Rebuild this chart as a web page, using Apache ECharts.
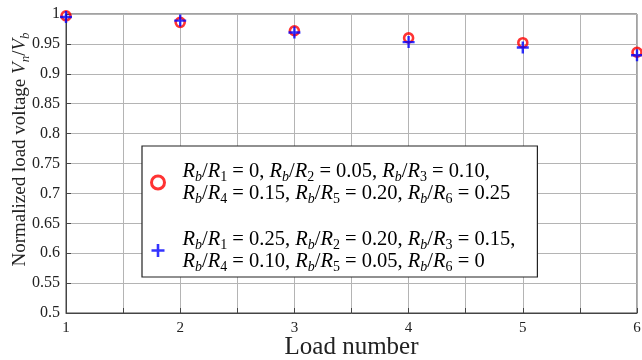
<!DOCTYPE html>
<html>
<head>
<meta charset="utf-8">
<script src="https://cdn.jsdelivr.net/npm/echarts@6/dist/echarts.min.js"></script>
<style>html,body{margin:0;padding:0;background:#fff}#c{width:642px;height:360px}</style>
</head>
<body>
<div id="c"></div>
<script>
const loads = [1, 2, 3, 4, 5, 6];
const redValues = [0.997, 0.986, 0.972, 0.960, 0.952, 0.936];
const blueValues = [0.995, 0.989, 0.969, 0.953, 0.944, 0.931];
const redRatios = ['0', '0.05', '0.10', '0.15', '0.20', '0.25'];
const blueRatios = ['0.25', '0.20', '0.15', '0.10', '0.05', '0'];
const yTicks = { min: 0.5, max: 1, interval: 0.05 };
const xTicks = { min: 1, max: 6, interval: 0.5 };
const xName = 'Load number';
const yNamePlain = 'Normalized load voltage ';

const FONT = 'Liberation Serif';

function ratioText(vals) {
  let s = '';
  vals.forEach((v, k) => {
    s += '{i|R}{sb|b}{n|/}{i|R}{sd|' + (k + 1) + '}{n| = ' + v + (k < vals.length - 1 ? ',' : '') + (k === 2 ? '}\n' : ' }');
  });
  return s;
}
const seriesNames = ['red', 'blue'];
const legendTexts = { red: ratioText(redRatios), blue: ratioText(blueRatios) };

const LF = 20.5;
const legendRich = {
  n: { fontFamily: FONT, fontSize: LF, lineHeight: 22, color: '#000' },
  i: { fontFamily: FONT, fontSize: LF, lineHeight: 22, fontStyle: 'italic', color: '#000' },
  sb: { fontFamily: FONT, fontSize: 14, lineHeight: 11, fontStyle: 'italic', padding: [11, 0, 0, 0], color: '#000' },
  sd: { fontFamily: FONT, fontSize: 14, lineHeight: 11, padding: [11, 0, 0, 0], color: '#000' }
};
const NF = 19;
const nameRich = {
  n: { fontFamily: FONT, fontSize: NF, lineHeight: 22, color: '#222' },
  i: { fontFamily: FONT, fontSize: NF, lineHeight: 22, fontStyle: 'italic', color: '#222' },
  s: { fontFamily: FONT, fontSize: 13, lineHeight: 11, fontStyle: 'italic', padding: [11, 0, 0, 0], color: '#222' }
};

const plusPath = 'path://M4,0h2v4h4v2h-4v4h-2v-4h-4v-2h4z';

const chart = echarts.init(document.getElementById('c'), null, { renderer: 'canvas' });
chart.setOption({
  animation: false,
  backgroundColor: '#fff',
  grid: { left: 66, right: 5, top: 14, bottom: 47, show: true, borderColor: '#444', borderWidth: 1,
    containLabel: false, outerBoundsMode: 'none' },
  xAxis: {
    type: 'value', min: xTicks.min, max: xTicks.max, interval: xTicks.interval,
    name: xName, nameLocation: 'middle', nameGap: 22, nameMoveOverlap: false,
    nameTextStyle: { fontFamily: FONT, fontSize: 25, color: '#222' },
    axisLine: { show: true, lineStyle: { color: '#444', width: 1 } },
    axisTick: { show: true, inside: true, length: 5, lineStyle: { color: '#444' } },
    axisLabel: { fontFamily: FONT, fontSize: 15, color: '#222', margin: 8,
      formatter: v => (Math.abs(v - Math.round(v)) < 1e-6 ? String(Math.round(v)) : '') },
    splitLine: { show: true, lineStyle: { color: '#b4b4b4', width: 1 } }
  },
  yAxis: {
    type: 'value', min: yTicks.min, max: yTicks.max, interval: yTicks.interval,
    name: yNamePlain + '{i|V}{s|n}{n|/}{i|V}{s|b}', nameLocation: 'middle', nameGap: 35, nameMoveOverlap: false,
    nameTextStyle: { fontFamily: FONT, fontSize: NF, color: '#222', rich: nameRich, padding: [0, 0, 0, 28] },
    axisLine: { show: true, lineStyle: { color: '#444', width: 1 } },
    axisTick: { show: true, inside: true, length: 5, lineStyle: { color: '#444' } },
    axisLabel: { fontFamily: FONT, fontSize: 16, color: '#222', margin: 6,
      formatter: v => String(parseFloat(v.toFixed(2))) },
    splitLine: { show: true, lineStyle: { color: '#b4b4b4', width: 1 } }
  },
  legend: {
    orient: 'vertical', left: 142, top: 146,
    padding: [13, 22, 3, 8], itemGap: 21, itemWidth: 13, itemHeight: 13,
    backgroundColor: '#fff', borderColor: '#222', borderWidth: 1.2, borderRadius: 0,
    data: [
      { name: 'red', icon: 'circle', itemStyle: { color: 'transparent', borderColor: '#ff0000', borderWidth: 3 } },
      { name: 'blue', icon: plusPath, itemStyle: { color: '#0000ff' } }
    ],
    formatter: name => legendTexts[name],
    textStyle: { fontFamily: FONT, fontSize: LF, color: '#000', padding: [0, 0, 0, 13], rich: legendRich }
  },
  series: [
    {
      name: seriesNames[0], type: 'scatter', clip: false,
      data: loads.map((x, k) => [x, redValues[k]]),
      symbol: 'circle', symbolSize: 9,
      itemStyle: { color: 'transparent', borderColor: '#ff0000', borderWidth: 2.6 },
      z: 2
    },
    {
      name: seriesNames[1], type: 'scatter', clip: false,
      data: loads.map((x, k) => [x, blueValues[k]]),
      symbol: plusPath, symbolSize: 12,
      itemStyle: { color: '#0000ff' },
      z: 3
    }
  ]
});
</script>
</body>
</html>
